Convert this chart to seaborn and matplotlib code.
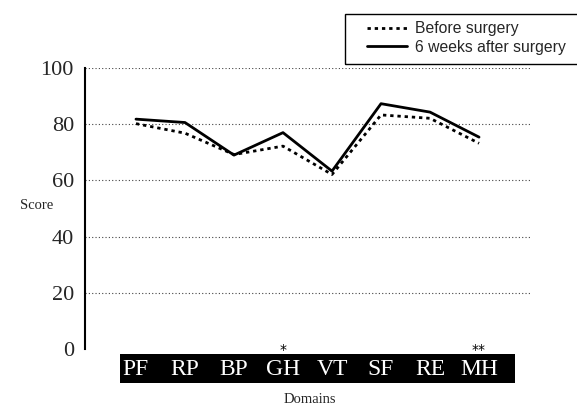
import pandas as pd
import matplotlib.pyplot as plt
import seaborn as sns
from matplotlib.patches import Rectangle
from matplotlib.transforms import blended_transform_factory

# Data
domains = ['PF', 'RP', 'BP', 'GH', 'VT', 'SF', 'RE', 'MH']
before = [80.2, 76.8, 69.2, 72.2, 62.1, 83.3, 82.1, 73.2]
after = [81.8, 80.6, 69.0, 77.0, 63.3, 87.3, 84.3, 75.4]
series_names = ['Before surgery', '6 weeks after surgery']
stars = {'GH': '*', 'MH': '**'}
y_ticks = [0, 20, 40, 60, 80, 100]

data = pd.DataFrame({
    'Domain': domains * 2,
    'Score': before + after,
    'Time': [series_names[0]] * len(domains) + [series_names[1]] * len(domains),
})

sns.set_style('white')
plt.rcParams['font.family'] = ['Liberation Serif', 'DejaVu Serif']

fig = plt.figure(figsize=(5.77, 4.09), dpi=100)
ax = fig.add_axes([85 / 577, 1 - 349 / 409, 445 / 577, 281 / 409])

sns.lineplot(
    data=data, x='Domain', y='Score', hue='Time', style='Time',
    palette=['black', 'black'],
    dashes={series_names[0]: (1.2, 1.4), series_names[1]: ''},
    linewidth=2.0, ax=ax, legend=True, sort=False,
)

ax.set_ylim(0, 100)
ax.set_xlim(-1.04, 8.04)
ax.set_yticks(y_ticks)
ax.tick_params(axis='y', direction='in', length=4, width=1.2, pad=8,
               labelsize=16, color='black')
for s in ['top', 'right', 'bottom']:
    ax.spines[s].set_visible(False)
ax.spines['left'].set_linewidth(1.5)
ax.spines['left'].set_color('black')

# dotted horizontal grid (skip zero)
for v in y_ticks[1:]:
    ax.axhline(v, color='#444444', linestyle=(0, (1, 2)), linewidth=0.8, zorder=0)

# black band behind the x tick labels
trans = blended_transform_factory(ax.transData, ax.transAxes)
ax.add_patch(Rectangle((-0.33, -0.121), 8.07, 0.103, transform=trans,
                       facecolor='black', edgecolor='none', clip_on=False, zorder=0.5))
ax.set_xticks(range(len(domains)))
ax.set_xticklabels(domains)
ax.tick_params(axis='x', length=0, pad=7.5, labelsize=17, labelcolor='white')

for i, d in enumerate(domains):
    if d in stars:
        ax.text(i, -0.004, stars[d], transform=trans, ha='center', va='center',
                fontsize=10, fontfamily='DejaVu Sans', color='black')

ax.set_xlabel('Domains', fontsize=10.5)
ax.xaxis.label.set_va('center')
ax.xaxis.set_label_coords(0.506, -0.181)
ax.set_ylabel('Score', fontsize=10.5, rotation=0, ha='center', va='center')
ax.yaxis.set_label_coords(-0.108, 0.512)

handles, labels = ax.get_legend_handles_labels()
ax.get_legend().remove()
leg = fig.legend(handles, labels, loc='upper left',
                 bbox_to_anchor=(360 / 577, 1 - 14 / 409),
                 prop={'family': 'Liberation Sans', 'size': 11.3},
                 frameon=False, handlelength=2.55,
                 handletextpad=0.5, borderpad=0.45, labelspacing=0.25,
                 borderaxespad=0)
# legend box runs off the right edge in the original
fig.patches.append(Rectangle((345 / 577, 1 - 64 / 409), 240 / 577, 50 / 409,
                             transform=fig.transFigure, facecolor='none',
                             edgecolor='black', linewidth=1.0))

plt.savefig('out.png', dpi=100)
